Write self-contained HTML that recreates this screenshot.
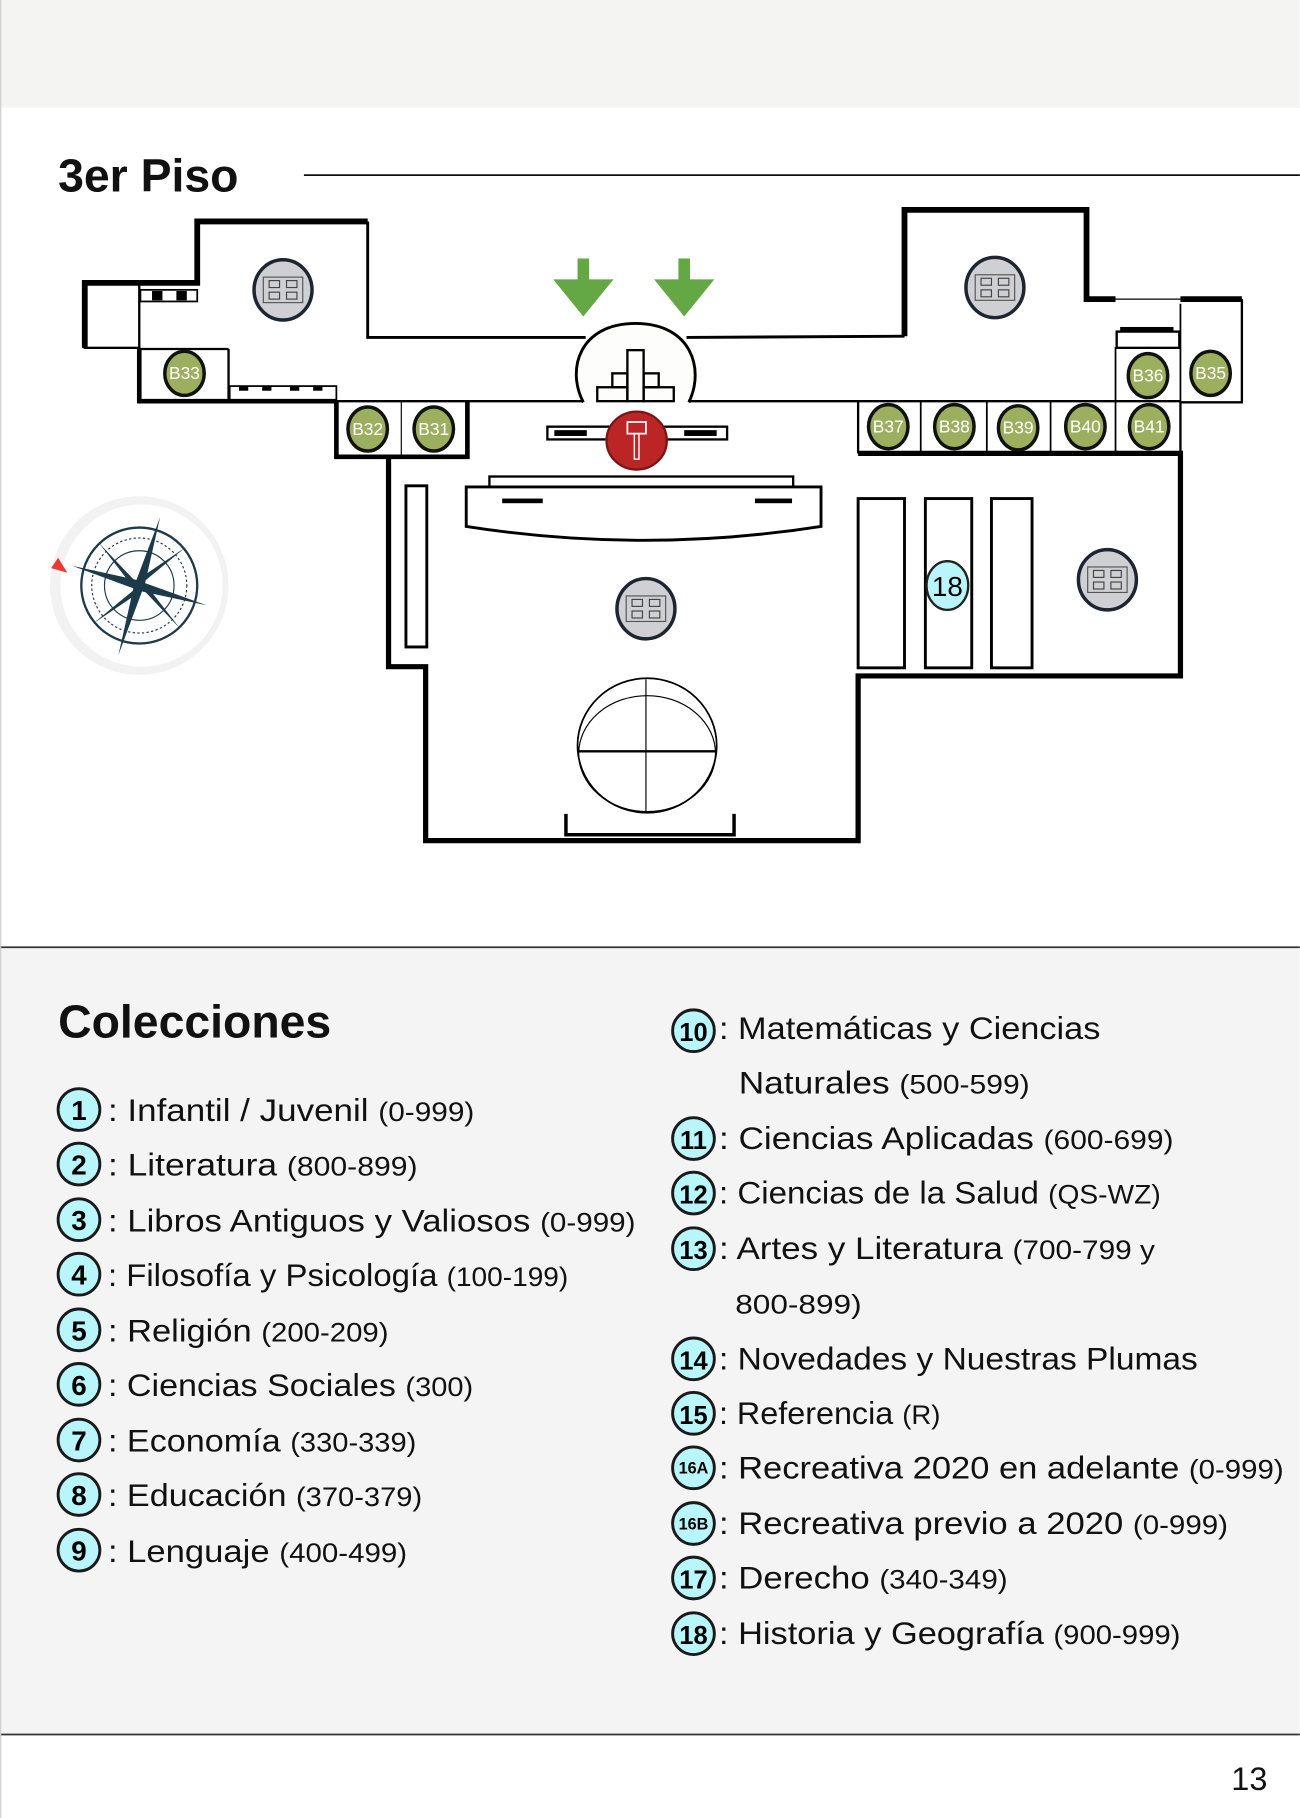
<!DOCTYPE html>
<html><head><meta charset="utf-8"><style>html,body{margin:0;padding:0;background:#fff}svg{display:block}</style></head><body>
<svg width="1300" height="1818" viewBox="0 0 1121 1568" xmlns="http://www.w3.org/2000/svg" font-family="Liberation Sans, sans-serif">
<defs>
<g id="tbl">
<ellipse cx="0" cy="0" rx="25" ry="26" fill="#cfd0d3" stroke="#1c2530" stroke-width="3"/>
<rect x="-17" y="-11" width="34" height="22" fill="none" stroke="#555" stroke-width="1"/>
<rect x="-12" y="-8" width="9" height="6" fill="none" stroke="#444" stroke-width="1"/><rect x="3" y="-8" width="9" height="6" fill="none" stroke="#444" stroke-width="1"/>
<rect x="-12" y="2" width="9" height="6" fill="none" stroke="#444" stroke-width="1"/><rect x="3" y="2" width="9" height="6" fill="none" stroke="#444" stroke-width="1"/>
</g>
</defs>
<rect x="0" y="0" width="1121" height="93" fill="#f4f4f3"/>
<rect x="0" y="817" width="1121" height="679" fill="#f4f4f4"/>
<line x1="0" y1="817" x2="1121" y2="817" stroke="#333" stroke-width="1.5"/>
<line x1="0" y1="1496" x2="1121" y2="1496" stroke="#333" stroke-width="1.5"/>
<line x1="0.5" y1="0" x2="0.5" y2="1568" stroke="#ccc" stroke-width="1"/>
<text x="50" y="165" font-size="40" font-weight="bold" fill="#111">3er Piso</text>
<line x1="262" y1="151" x2="1121" y2="151" stroke="#111" stroke-width="1.5"/>
<g fill="none" stroke="#000" stroke-linejoin="miter">
<polyline points="73,300 73,244 170,244 170,191 317,191" stroke-width="5"/>
<polyline points="317,191 317,291 505,291" stroke-width="2.5"/>
<polyline points="592,291 780,290" stroke-width="2.5"/>
<polyline points="780,290 780,181 937,181 937,258 962,258" stroke-width="5"/>
<line x1="962" y1="258" x2="1018" y2="258" stroke-width="1"/>
<polyline points="1018,258 1071,258" stroke-width="5"/>
<polyline points="1071,258 1071,347 1018,347" stroke-width="2"/>
<rect x="73" y="244" width="47" height="56" stroke-width="2"/>
<polyline points="120,300 120,346 290,346" stroke-width="4"/>
<polyline points="197,301 197,346" stroke-width="2"/>
<polyline points="120,301 197,301" stroke-width="2"/>
<polyline points="290,346 503,346" stroke-width="2"/>
<polyline points="594,346 740,346 1018,346" stroke-width="2"/>
<polyline points="290,346 290,394 403,394 403,346" stroke-width="4"/>
<line x1="346" y1="346" x2="346" y2="394" stroke-width="1"/>
<polyline points="335,394 335,575 367,575 367,725 740,725 740,583 1018,583 1018,391 740,391" stroke-width="4.5"/>
<line x1="740" y1="346" x2="740" y2="391" stroke-width="2"/>
<line x1="794" y1="346" x2="794" y2="391" stroke-width="1.5"/>
<line x1="851" y1="346" x2="851" y2="391" stroke-width="1.5"/>
<line x1="906" y1="346" x2="906" y2="391" stroke-width="1.5"/>
<line x1="962" y1="346" x2="962" y2="391" stroke-width="1.5"/>
<line x1="1018" y1="346" x2="1018" y2="391" stroke-width="2"/>
<polyline points="1018,262 1018,346" stroke-width="1.5"/>
<polyline points="962,346 962,300 1018,300" stroke-width="1.5"/>
<rect x="963" y="286" width="54" height="14" stroke-width="2"/>
<rect x="121" y="250" width="49" height="10" stroke-width="1.5"/>
<rect x="198" y="333" width="92" height="12" stroke-width="1.5"/>
<path d="M503,347 C488,318 500,279 548,279 C596,279 608,318 594,347" stroke-width="2.5" fill="#fdfdfb"/>
<rect x="541" y="302" width="14" height="44" stroke-width="2"/>
<rect x="528" y="322" width="13" height="12" stroke-width="2"/><rect x="555" y="322" width="13" height="12" stroke-width="2"/>
<rect x="515" y="334" width="26" height="12" stroke-width="2"/><rect x="555" y="334" width="26" height="12" stroke-width="2"/>
<rect x="472" y="368" width="155" height="11" stroke-width="2"/>
<rect x="422" y="411" width="262" height="10" stroke-width="2"/>
<path d="M402,420 L708,420 L708,454 Q555,478 402,454 Z" stroke-width="2.5" fill="#fff"/>
<rect x="350" y="419" width="18" height="139" stroke-width="2.5"/>
<rect x="740" y="430" width="40" height="146" stroke-width="2.5"/>
<rect x="798" y="430" width="40" height="146" stroke-width="2.5"/>
<rect x="855" y="430" width="35" height="146" stroke-width="2.5"/>
<ellipse cx="558" cy="643" rx="60" ry="58" stroke-width="1.5"/>
<ellipse cx="558" cy="650" rx="59" ry="50" stroke-width="1"/>
<line x1="498" y1="648" x2="618" y2="648" stroke-width="2"/>
<line x1="557" y1="586" x2="557" y2="700" stroke-width="1"/>
<polyline points="488,702 488,720 633,720 633,702" stroke-width="3"/>
</g>
<rect x="478" y="371" width="28" height="5" fill="#000"/><rect x="590" y="371" width="28" height="5" fill="#000"/>
<rect x="433" y="430" width="35" height="4" fill="#000"/><rect x="651" y="430" width="32" height="4" fill="#000"/>
<g fill="#000"><rect x="131" y="251" width="9" height="8"/><rect x="152" y="251" width="9" height="8"/>
<rect x="206" y="333" width="8" height="4"/><rect x="226" y="333" width="8" height="4"/><rect x="250" y="333" width="8" height="4"/><rect x="270" y="333" width="8" height="4"/>
<rect x="966" y="282" width="46" height="4"/></g>
<g fill="#63a844"><path d="M498,223 h10 v18 h21 l-26,32 l-26,-32 h21 z"/><path d="M585,223 h10 v18 h21 l-26,32 l-26,-32 h21 z"/></g>
<ellipse cx="549" cy="380" rx="26" ry="25" fill="#bb2526" stroke="#7a1515" stroke-width="2"/>
<rect x="541" y="364" width="16" height="10" fill="none" stroke="#fff" stroke-width="1.5"/>
<rect x="547" y="374" width="4" height="22" fill="none" stroke="#fff" stroke-width="1.2"/>
<use href="#tbl" x="244" y="250"/><use href="#tbl" x="858" y="248"/><use href="#tbl" x="557" y="525"/><use href="#tbl" x="955" y="500"/>
<g fill="#9caf5e" stroke="#111" stroke-width="3">
<ellipse cx="159" cy="322" rx="17" ry="19"/><ellipse cx="317" cy="370" rx="17" ry="19"/><ellipse cx="374" cy="370" rx="17" ry="19"/>
<ellipse cx="766" cy="368" rx="17" ry="19"/><ellipse cx="823" cy="368" rx="17" ry="19"/><ellipse cx="878" cy="369" rx="17" ry="19"/><ellipse cx="936" cy="368" rx="17" ry="19"/><ellipse cx="991" cy="368" rx="17" ry="19"/>
<ellipse cx="990" cy="324" rx="17" ry="19"/><ellipse cx="1044" cy="322" rx="17" ry="19"/></g>
<g fill="#fff" font-size="15" text-anchor="middle">
<text x="159" y="327">B33</text><text x="317" y="375">B32</text><text x="374" y="375">B31</text>
<text x="766" y="373">B37</text><text x="823" y="373">B38</text><text x="878" y="374">B39</text><text x="936" y="373">B40</text><text x="991" y="373">B41</text>
<text x="990" y="329">B36</text><text x="1044" y="327">B35</text></g>
<ellipse cx="817" cy="505" rx="18" ry="21" fill="#b8f6fb" stroke="#222" stroke-width="2"/>
<text x="817" y="514" font-size="24" text-anchor="middle" fill="#000">18</text>
<circle cx="120" cy="505" r="77" fill="#f2f2f2"/>
<circle cx="122" cy="505" r="70" fill="#fff"/>
<circle cx="120" cy="505" r="50" fill="none" stroke="#1d3a4a" stroke-width="2"/>
<circle cx="120" cy="505" r="41" fill="none" stroke="#1d3a4a" stroke-width="1" stroke-dasharray="2 2"/>
<circle cx="120" cy="505" r="30" fill="none" stroke="#1d3a4a" stroke-width="1"/>
<g fill="#1d3a4a">
<path d="M138,446 L125,503 L115,507 Z"/><path d="M102,565 L115,507 L125,503 Z"/>
<path d="M62,488 L117,500 L122,510 Z"/><path d="M178,522 L122,510 L117,500 Z"/>
<path d="M85,468 L120,505 L116,508 Z"/><path d="M155,542 L120,505 L124,502 Z"/>
<path d="M160,472 L120,505 L117,501 Z"/><path d="M80,538 L120,505 L123,509 Z"/>
</g>
<path d="M44,490 L50,481 L58,494 Z" fill="#e83a2f"/>
<text x="50" y="895" font-size="40" font-weight="bold" fill="#111">Colecciones</text>
<g fill="#b8f6fb" stroke="#1a1a1a" stroke-width="2.5">
<circle cx="68" cy="957" r="18"/><circle cx="68" cy="1004" r="18"/><circle cx="68" cy="1052" r="18"/><circle cx="68" cy="1099" r="18"/><circle cx="68" cy="1147" r="18"/><circle cx="68" cy="1194" r="18"/><circle cx="68" cy="1242" r="18"/><circle cx="68" cy="1289" r="18"/><circle cx="68" cy="1337" r="18"/>
<circle cx="598" cy="889" r="18"/><circle cx="598" cy="982" r="18"/><circle cx="598" cy="1029" r="18"/><circle cx="598" cy="1077" r="18"/><circle cx="598" cy="1172" r="18"/><circle cx="598" cy="1219" r="18"/><circle cx="598" cy="1266" r="18"/><circle cx="598" cy="1314" r="18"/><circle cx="598" cy="1361" r="18"/><circle cx="598" cy="1409" r="18"/></g>
<g font-size="24" font-weight="bold" text-anchor="middle" fill="#000">
<text x="68" y="966">1</text><text x="68" y="1013">2</text><text x="68" y="1061">3</text><text x="68" y="1108">4</text><text x="68" y="1156">5</text><text x="68" y="1203">6</text><text x="68" y="1251">7</text><text x="68" y="1298">8</text><text x="68" y="1346">9</text>
<text x="598" y="898" font-size="22">10</text><text x="598" y="991" font-size="22">11</text><text x="598" y="1038" font-size="22">12</text><text x="598" y="1086" font-size="22">13</text><text x="598" y="1181" font-size="22">14</text><text x="598" y="1228" font-size="22">15</text><text x="598" y="1271" font-size="14">16A</text><text x="598" y="1319" font-size="14">16B</text><text x="598" y="1370" font-size="22">17</text><text x="598" y="1418" font-size="22">18</text></g>
<g font-size="27" fill="#111">
<text x="93" y="967" textLength="316" lengthAdjust="spacingAndGlyphs">: Infantil / Juvenil <tspan font-size="23">(0-999)</tspan></text>
<text x="93" y="1014" textLength="267" lengthAdjust="spacingAndGlyphs">: Literatura <tspan font-size="23">(800-899)</tspan></text>
<text x="93" y="1062" textLength="455" lengthAdjust="spacingAndGlyphs">: Libros Antiguos y Valiosos <tspan font-size="23">(0-999)</tspan></text>
<text x="93" y="1109" textLength="397" lengthAdjust="spacingAndGlyphs">: Filosofía y Psicología <tspan font-size="23">(100-199)</tspan></text>
<text x="93" y="1157" textLength="242" lengthAdjust="spacingAndGlyphs">: Religión <tspan font-size="23">(200-209)</tspan></text>
<text x="93" y="1204" textLength="315" lengthAdjust="spacingAndGlyphs">: Ciencias Sociales <tspan font-size="23">(300)</tspan></text>
<text x="93" y="1252" textLength="266" lengthAdjust="spacingAndGlyphs">: Economía <tspan font-size="23">(330-339)</tspan></text>
<text x="93" y="1299" textLength="271" lengthAdjust="spacingAndGlyphs">: Educación <tspan font-size="23">(370-379)</tspan></text>
<text x="93" y="1347" textLength="258" lengthAdjust="spacingAndGlyphs">: Lenguaje <tspan font-size="23">(400-499)</tspan></text>
<text x="620" y="896" textLength="329" lengthAdjust="spacingAndGlyphs">: Matemáticas y Ciencias</text>
<text x="637" y="943" textLength="251" lengthAdjust="spacingAndGlyphs">Naturales <tspan font-size="23">(500-599)</tspan></text>
<text x="620" y="991" textLength="392" lengthAdjust="spacingAndGlyphs">: Ciencias Aplicadas <tspan font-size="23">(600-699)</tspan></text>
<text x="620" y="1038" textLength="381" lengthAdjust="spacingAndGlyphs">: Ciencias de la Salud <tspan font-size="23">(QS-WZ)</tspan></text>
<text x="620" y="1086" textLength="376" lengthAdjust="spacingAndGlyphs">: Artes y Literatura <tspan font-size="23">(700-799 y</tspan></text>
<text x="634" y="1133" font-size="23" textLength="109" lengthAdjust="spacingAndGlyphs">800-899)</text>
<text x="620" y="1181" textLength="413" lengthAdjust="spacingAndGlyphs">: Novedades y Nuestras Plumas</text>
<text x="620" y="1228" textLength="191" lengthAdjust="spacingAndGlyphs">: Referencia <tspan font-size="23">(R)</tspan></text>
<text x="620" y="1275" textLength="487" lengthAdjust="spacingAndGlyphs">: Recreativa 2020 en adelante <tspan font-size="23">(0-999)</tspan></text>
<text x="620" y="1323" textLength="439" lengthAdjust="spacingAndGlyphs">: Recreativa previo a 2020 <tspan font-size="23">(0-999)</tspan></text>
<text x="620" y="1370" textLength="249" lengthAdjust="spacingAndGlyphs">: Derecho <tspan font-size="23">(340-349)</tspan></text>
<text x="620" y="1418" textLength="398" lengthAdjust="spacingAndGlyphs">: Historia y Geografía <tspan font-size="23">(900-999)</tspan></text>
</g>
<text x="1093" y="1544" font-size="28" text-anchor="end" fill="#111">13</text>
</svg>
</body></html>
